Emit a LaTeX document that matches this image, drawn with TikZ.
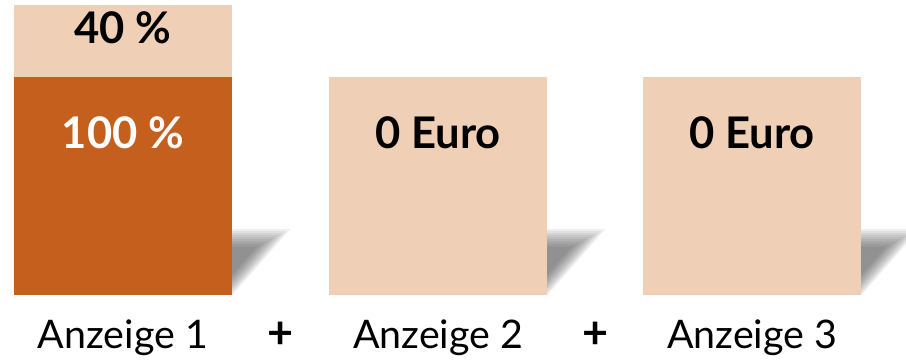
\documentclass[tikz,border=0pt]{standalone}
\usepackage{fontspec}
\setmainfont{Lato}
\usetikzlibrary{positioning, calc}
\definecolor{ad_dark}{RGB}{197, 95, 30}
\definecolor{ad_light}{RGB}{239, 208, 182}
\definecolor{ad_shadow}{RGB}{70, 70, 70}

% soft shadow at the lower right corner of a box
\newcommand{\adshadow}[1]{%
  \begin{scope}[shift={(#1.south east)}]
    \clip (0,-70) rectangle (75,0);
    \foreach \d in {0,...,9}
      \fill[ad_shadow, opacity=0.085]
        (-12,{-66+2*\d}) -- ({58-3.75*\d},{-66+2*\d}) -- (-12,{-66+(70-2*\d)/0.875}) -- cycle;
  \end{scope}}

\begin{document}
\begin{tikzpicture}[
    x=0.025cm, y=-0.025cm,
    adbox/.style={minimum width=5.45cm, minimum height=5.45cm, inner sep=0pt, outer sep=0pt},
    topbox/.style={fill=ad_light, minimum width=5.45cm, minimum height=1.8cm, inner sep=0pt, outer sep=0pt},
    val/.style={font=\bfseries\fontsize{31}{36}\selectfont, anchor=base},
    lbl/.style={font=\fontsize{28}{32}\selectfont, anchor=base},
    plus/.style={font=\bfseries\fontsize{32}{36}\selectfont},
  ]
  \useasboundingbox (0,0) rectangle (906,360);

  \node[adbox, fill=ad_dark, anchor=north west] (ad1) at (14,77) {};
  \node[adbox, fill=ad_light, right=2.425cm of ad1] (ad2) {};
  \node[adbox, fill=ad_light, right=2.4cm of ad2] (ad3) {};
  \node[topbox, above=0pt of ad1] (bonus) {};

  \adshadow{ad1}
  \adshadow{ad2}
  \adshadow{ad3}

  \node[val] (pct40) at ([yshift=-0.975cm]bonus.north) {40 \%};
  \node[val, text=white] (pct100) at ([yshift=-1.78cm]ad1.north) {100 \%};
  \node[val] (euro2) at ([yshift=-1.78cm]ad2.north) {0 Euro};
  \node[val] (euro3) at ([yshift=-1.78cm]ad3.north) {0 Euro};

  \node[lbl] (lab1) at ([yshift=-1.325cm]ad1.south) {Anzeige 1};
  \node[lbl] (lab2) at ([yshift=-1.325cm]ad2.south) {Anzeige 2};
  \node[lbl] (lab3) at ([yshift=-1.325cm]ad3.south) {Anzeige 3};

  \node[plus] (plus1) at ([yshift=-1cm]$(ad1.south east)!0.5!(ad2.south west)$) {+};
  \node[plus] (plus2) at ([yshift=-1cm]$(ad2.south east)!0.5!(ad3.south west)$) {+};
\end{tikzpicture}
\end{document}
